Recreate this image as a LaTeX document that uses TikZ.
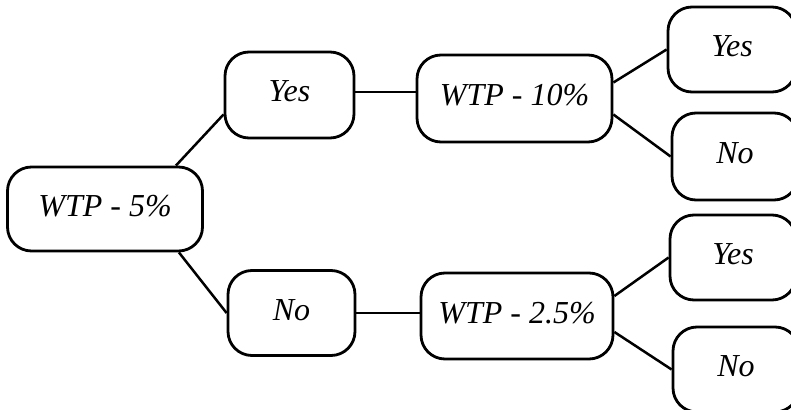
\documentclass[tikz,border=0pt]{standalone}
\usepackage{fontspec}
\setmainfont{Liberation Serif}
\begin{document}
\begin{tikzpicture}[x=1pt,y=-1pt,
  choice/.style={draw, line width=2.8pt, rounded corners=24pt,
    minimum width=#1, inner sep=0pt, text height=22pt, text depth=8pt,
    font=\fontsize{32}{36}\selectfont\itshape},
  choice/.default=128pt,
  link/.style={line width=2.5pt}]
\useasboundingbox (0,0) rectangle (791,409);
% root and first level
\node[choice=195pt, minimum height=84pt] (w5) at (105,209) {WTP - 5\%};
\node[choice=129pt, minimum height=86pt] (yes1) at (289.5,95) {Yes};
\node[choice=127pt, minimum height=85pt] (no1) at (291.5,313) {No};
% second level
\node[choice=195pt, minimum height=87pt] (w10) at (514.5,98.5) {WTP - 10\%};
\node[choice=192pt, minimum height=86pt] (w25) at (517,316) {WTP - 2.5\%};
% leaves
\node[choice=128pt, minimum height=85pt] (yes2) at (732,49.5) {Yes};
\node[choice=126pt, minimum height=87pt] (no2) at (735,156.5) {No};
\node[choice=126pt, minimum height=85pt] (yes3) at (733,257.5) {Yes};
\node[choice=126pt, minimum height=85pt] (no3) at (736,369.5) {No};
% connectors
\draw[link] ([xshift=-28pt]w5.north east) -- ([yshift=25pt]yes1.south west);
\draw[link] ([xshift=-25pt]w5.south east) -- (no1.west);
\draw[link] ([yshift=3pt]yes1.east) -- ([yshift=3pt]yes1.east -| w10.west);
\draw[link] (no1.east) -- (no1.east -| w25.west);
\draw[link] ([yshift=16pt]w10.east) -- (yes2.west);
\draw[link] ([yshift=-16pt]w10.east) -- (no2.west);
\draw[link] ([yshift=20pt]w25.east) -- (yes3.west);
\draw[link] ([yshift=-16pt]w25.east) -- (no3.west);
\end{tikzpicture}
\end{document}
